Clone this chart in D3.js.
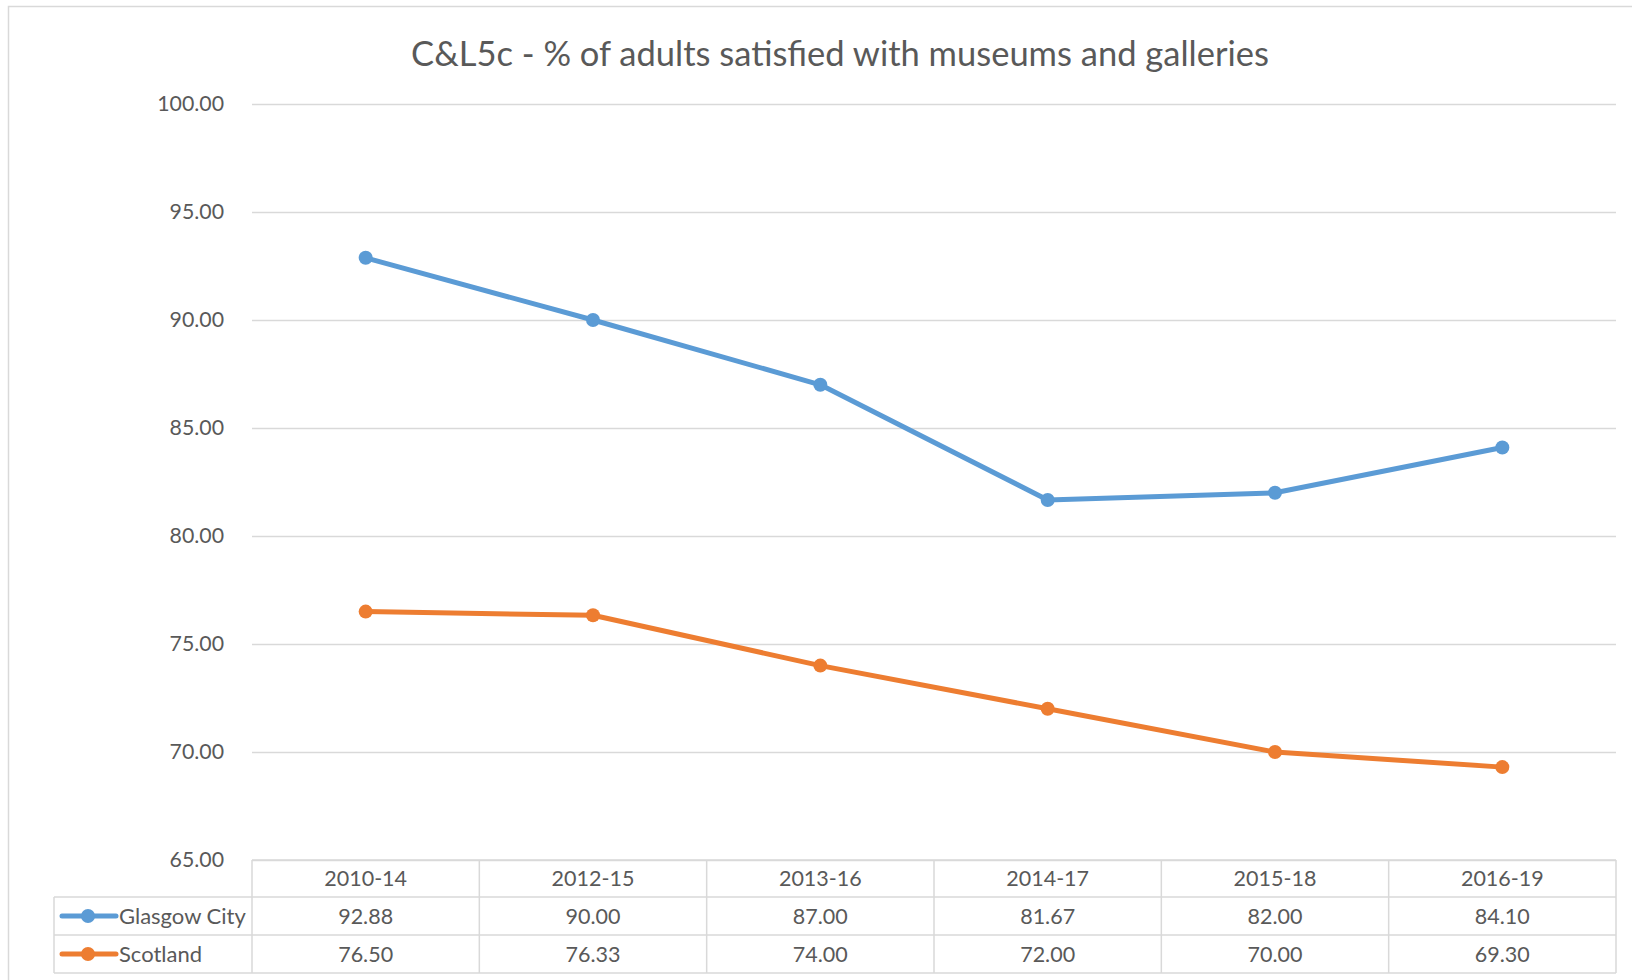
<!DOCTYPE html>
<html>
<head>
<meta charset="utf-8">
<script src="https://cdn.jsdelivr.net/npm/d3@7"></script>
<style>
  html, body { margin: 0; padding: 0; background: #fff; }
  svg { display: block; font-family: Lato, "Open Sans", sans-serif; }
</style>
</head>
<body>
<svg id="chart" width="1632" height="980"></svg>
<script>
// Survey periods and the satisfaction results for each area
const periods = ["2010-14", "2012-15", "2013-16", "2014-17", "2015-18", "2016-19"];
const glasgowCity = [92.88, 90.00, 87.00, 81.67, 82.00, 84.10];
const scotland = [76.50, 76.33, 74.00, 72.00, 70.00, 69.30];
const yTicks = [65, 70, 75, 80, 85, 90, 95, 100];

const series = [
  { name: "Glasgow City", values: glasgowCity, color: "#5B9BD5" },
  { name: "Scotland", values: scotland, color: "#ED7D31" }
];

const textColor = "#595959";
const gridColor = "#D9D9D9";

const svg = d3.select("#chart");
const plot = { left: 252, right: 1616, top: 104, bottom: 860 };
const rowH = [860, 897, 935, 973]; // data-table row boundaries
const legendLeft = 54;

// Chart frame
svg.append("rect")
  .attr("x", 8.5).attr("y", 6.5)
  .attr("width", 1640).attr("height", 990)
  .attr("fill", "none").attr("stroke", gridColor).attr("stroke-width", 1.5);

// Title
svg.append("text")
  .attr("x", 840).attr("y", 66)
  .attr("text-anchor", "middle")
  .attr("fill", textColor)
  .attr("font-size", 34.5)
  .text("C&L5c - % of adults satisfied with museums and galleries");

const x = d3.scaleBand().domain(periods).range([plot.left, plot.right]);
const y = d3.scaleLinear().domain([65, 100]).range([plot.bottom, plot.top]);

// Horizontal gridlines with value labels
const yAxis = d3.axisLeft(y)
  .tickValues(yTicks)
  .tickFormat(d3.format(".2f"))
  .tickSize(-(plot.right - plot.left))
  .tickPadding(28);

const gy = svg.append("g")
  .attr("transform", `translate(${plot.left},0)`)
  .call(yAxis);
gy.select(".domain").remove();
gy.selectAll(".tick line").attr("stroke", gridColor).attr("stroke-width", 1.5);
gy.selectAll(".tick text")
  .attr("fill", textColor)
  .attr("font-size", 21.3)
  .attr("font-family", "Lato, 'Open Sans', sans-serif");

// Lines and markers
const line = d3.line()
  .x((d, i) => x(periods[i]) + x.bandwidth() / 2)
  .y(d => y(d));

series.forEach(s => {
  svg.append("path")
    .datum(s.values)
    .attr("d", line)
    .attr("fill", "none")
    .attr("stroke", s.color)
    .attr("stroke-width", 5)
    .attr("stroke-linejoin", "round")
    .attr("stroke-linecap", "round");
  svg.append("g").selectAll("circle")
    .data(s.values)
    .join("circle")
    .attr("cx", (d, i) => x(periods[i]) + x.bandwidth() / 2)
    .attr("cy", d => y(d))
    .attr("r", 7)
    .attr("fill", s.color);
});

// Data table beneath the plot
const table = svg.append("g");

// horizontal rules
table.append("line")
  .attr("x1", plot.left).attr("x2", plot.right)
  .attr("y1", rowH[0]).attr("y2", rowH[0])
  .attr("stroke", gridColor).attr("stroke-width", 1.5);
[rowH[1], rowH[2], rowH[3]].forEach(yy => {
  table.append("line")
    .attr("x1", legendLeft).attr("x2", plot.right)
    .attr("y1", yy).attr("y2", yy)
    .attr("stroke", gridColor).attr("stroke-width", 1.5);
});
// vertical rules
table.append("line")
  .attr("x1", legendLeft).attr("x2", legendLeft)
  .attr("y1", rowH[1]).attr("y2", rowH[3])
  .attr("stroke", gridColor).attr("stroke-width", 1.5);
const colEdges = periods.map(p => x(p)).concat([plot.right]);
table.selectAll("line.col")
  .data(colEdges)
  .join("line")
  .attr("class", "col")
  .attr("x1", d => d).attr("x2", d => d)
  .attr("y1", rowH[0]).attr("y2", rowH[3])
  .attr("stroke", gridColor).attr("stroke-width", 1.5);

// header labels
table.selectAll("text.hdr")
  .data(periods)
  .join("text")
  .attr("class", "hdr")
  .attr("x", d => x(d) + x.bandwidth() / 2)
  .attr("y", (rowH[0] + rowH[1]) / 2)
  .attr("dy", "0.35em")
  .attr("text-anchor", "middle")
  .attr("fill", textColor)
  .attr("font-size", 21.5)
  .text(d => d);

// series rows
series.forEach((s, r) => {
  const cy = (rowH[r + 1] + rowH[r + 2]) / 2;
  // legend key
  table.append("line")
    .attr("x1", 62).attr("x2", 116)
    .attr("y1", cy).attr("y2", cy)
    .attr("stroke", s.color).attr("stroke-width", 5)
    .attr("stroke-linecap", "round");
  table.append("circle")
    .attr("cx", 88).attr("cy", cy).attr("r", 7)
    .attr("fill", s.color);
  table.append("text")
    .attr("x", 119).attr("y", cy).attr("dy", "0.35em")
    .attr("fill", textColor).attr("font-size", 22)
    .text(s.name);
  table.selectAll(null)
    .data(s.values)
    .join("text")
    .attr("x", (d, i) => x(periods[i]) + x.bandwidth() / 2)
    .attr("y", cy).attr("dy", "0.35em")
    .attr("text-anchor", "middle")
    .attr("fill", textColor).attr("font-size", 21.5)
    .text(d => d3.format(".2f")(d));
});
</script>
</body>
</html>
